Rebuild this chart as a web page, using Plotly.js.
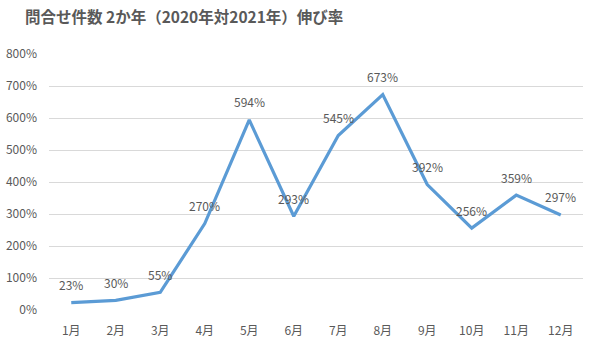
<!DOCTYPE html>
<html><head><meta charset="utf-8">
<script src="https://cdn.plot.ly/plotly-3.0.1.min.js"></script>
<style>html,body{margin:0;padding:0;background:#fff}#chart{width:598px;height:351px}</style>
</head><body><div id="chart"></div>
<script>
const months = ["1月","2月","3月","4月","5月","6月","7月","8月","9月","10月","11月","12月"];
const growthRates = [23,30,55,270,594,293,545,673,392,256,359,297];
const yTickValues = [0,100,200,300,400,500,600,700,800];
const yTickLabels = ["0%","100%","200%","300%","400%","500%","600%","700%","800%"];
const chartTitle = "問合せ件数 2か年（2020年対2021年）伸び率";

const font = "'Noto Sans CJK JP', 'Noto Sans', sans-serif";
const labelFont = {family: font, size: 12, color: "#595959"};
Plotly.newPlot("chart", [{
  x: months, y: growthRates, type: "scatter", mode: "lines",
  line: {color: "#5B9BD5", width: 3.2}, cliponaxis: false, hoverinfo: "skip"
}], {
  width: 598, height: 351,
  margin: {l: 49, r: 15, t: 54, b: 41},
  paper_bgcolor: "#fff", plot_bgcolor: "#fff",
  showlegend: false,
  title: {text: "<b>" + chartTitle + "</b>", x: 25/598, xanchor: "left", y: 1 - 18/351, yanchor: "middle",
    font: {family: font, size: 15.5, color: "#595959"}},
  annotations: months.map((m, i) => ({
    x: m, y: growthRates[i], xref: "x", yref: "y", text: growthRates[i] + "%",
    showarrow: false, yshift: 18, font: labelFont, xanchor: "center", yanchor: "middle"
  })),
  xaxis: {type: "category", range: [-0.5, 11.5], autorange: false, automargin: false,
    showgrid: false, zeroline: false, showline: false, ticks: "",
    tickfont: labelFont, ticklabelstandoff: 12},
  yaxis: {range: [0, 800], autorange: false, automargin: false, tickvals: yTickValues, ticktext: yTickLabels, showgrid: true,
    gridcolor: "#D9D9D9", gridwidth: 1, zeroline: false, showline: false, ticks: "",
    tickfont: labelFont, ticklabelstandoff: 11}
}, {displayModeBar: false, staticPlot: true});
</script></body></html>
